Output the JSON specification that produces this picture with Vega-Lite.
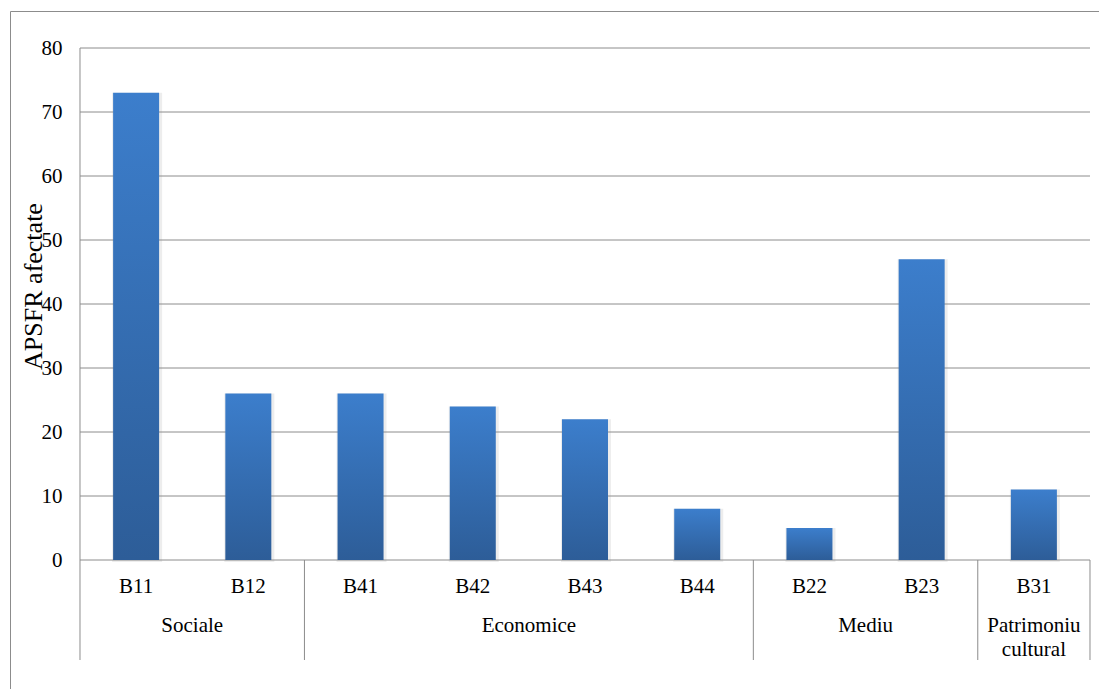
{
  "$schema": "https://vega.github.io/schema/vega-lite/v6.json",
  "width": 1089,
  "height": 678,
  "autosize": {"type": "none"},
  "padding": {"left": 10, "top": 11, "right": 0, "bottom": 0},
  "background": "white",
  "config": {"view": {"stroke": null}, "font": "'Liberation Serif', 'Times New Roman', serif"},
  "datasets": {
    "bars": [
      {"code": "B11", "group": "Sociale", "value": 73},
      {"code": "B12", "group": "Sociale", "value": 26},
      {"code": "B41", "group": "Economice", "value": 26},
      {"code": "B42", "group": "Economice", "value": 24},
      {"code": "B43", "group": "Economice", "value": 22},
      {"code": "B44", "group": "Economice", "value": 8},
      {"code": "B22", "group": "Mediu", "value": 5},
      {"code": "B23", "group": "Mediu", "value": 47},
      {"code": "B31", "group": "Patrimoniu cultural", "value": 11}
    ],
    "ticks": [
      {"v": 0}, {"v": 10}, {"v": 20}, {"v": 30}, {"v": 40},
      {"v": 50}, {"v": 60}, {"v": 70}, {"v": 80}
    ],
    "one": [{}]
  },
  "layer": [
    {
      "data": {"name": "bars"},
      "transform": [{"window": [{"op": "row_number", "as": "idx"}]}],
      "mark": {"type": "bar", "width": 50, "color": "#000000", "opacity": 0.07, "xOffset": 1, "y2Offset": 2},
      "encoding": {
        "x": {
          "field": "idx", "type": "quantitative",
          "scale": {"domain": [-0.12376, 9.58020], "nice": false, "zero": false, "padding": 0},
          "axis": {"orient": "top", "domain": true, "domainColor": "#8c8c8c", "domainWidth": 1, "ticks": false, "labels": false, "grid": false, "title": null}
        },
        "y": {
          "field": "value", "type": "quantitative",
          "scale": {"domain": [-20.15625, 85.78125], "nice": false, "zero": false, "padding": 0},
          "axis": {
            "orient": "left", "domain": true, "domainColor": "#8c8c8c", "domainWidth": 1,
            "ticks": false, "grid": false, "values": [0, 10, 20, 30, 40, 50, 60, 70, 80],
            "labelPadding": -52, "labelFontSize": 21, "labelFont": "'Liberation Serif', 'Times New Roman', serif", "labelColor": "#000000",
            "labelOverlap": false, "labelFlush": false,
            "title": "APSFR afectate", "titleFont": "'Liberation Serif', 'Times New Roman', serif", "titleFontSize": 26, "titleFontWeight": "normal",
            "titleColor": "#000000", "titleX": 31, "titleY": 275, "titleAngle": -90, "titleAlign": "center", "titleBaseline": "alphabetic"
          }
        },
        "y2": {"datum": 0}
      }
    },
    {
      "data": {"name": "ticks"},
      "mark": {"type": "rule", "color": "#8c8c8c", "strokeWidth": 1},
      "encoding": {
        "x": {"datum": 0.5, "type": "quantitative"},
        "x2": {"datum": 9.5},
        "y": {"field": "v", "type": "quantitative"}
      }
    },
    {
      "data": {"name": "one"},
      "mark": {"type": "rule", "color": "#8c8c8c", "strokeWidth": 1},
      "encoding": {
        "x": {"datum": 0.5, "type": "quantitative"},
        "y": {"datum": 80, "type": "quantitative"},
        "y2": {"datum": -15.625}
      }
    },
    {
      "data": {"name": "bars"},
      "transform": [
        {"window": [{"op": "row_number", "as": "idx"}]},
        {"joinaggregate": [{"op": "min", "field": "idx", "as": "gmin"}], "groupby": ["group"]},
        {"filter": "datum.idx == datum.gmin && datum.idx > 1"}
      ],
      "mark": {"type": "rule", "color": "#8c8c8c", "strokeWidth": 1, "xOffset": -56.11},
      "encoding": {
        "x": {"field": "idx", "type": "quantitative"},
        "y": {"datum": 0, "type": "quantitative"},
        "y2": {"datum": -15.625}
      }
    },
    {
      "data": {"name": "bars"},
      "transform": [
        {"window": [{"op": "row_number", "as": "idx"}]},
        {"joinaggregate": [{"op": "max", "field": "idx", "as": "amax"}]},
        {"filter": "datum.idx == datum.amax"}
      ],
      "mark": {"type": "rule", "color": "#8c8c8c", "strokeWidth": 1, "xOffset": 56.11},
      "encoding": {
        "x": {"field": "idx", "type": "quantitative"},
        "y": {"datum": 0, "type": "quantitative"},
        "y2": {"datum": -15.625}
      }
    },
    {
      "data": {"name": "bars"},
      "transform": [{"window": [{"op": "row_number", "as": "idx"}]}],
      "mark": {"type": "bar", "width": 46, "color": {"gradient": "linear", "x1": 0, "y1": 0, "x2": 0, "y2": 1, "stops": [{"offset": 0, "color": "#3c7ecc"}, {"offset": 1, "color": "#2d5d98"}]}},
      "encoding": {
        "x": {"field": "idx", "type": "quantitative"},
        "y": {"field": "value", "type": "quantitative"},
        "y2": {"datum": 0}
      }
    },
    {
      "data": {"name": "bars"},
      "transform": [{"window": [{"op": "row_number", "as": "idx"}]}],
      "mark": {"type": "text", "fontSize": 21, "font": "'Liberation Serif', 'Times New Roman', serif", "color": "#000000", "align": "center", "baseline": "alphabetic", "dy": 33},
      "encoding": {
        "x": {"field": "idx", "type": "quantitative"},
        "y": {"datum": 0, "type": "quantitative"},
        "text": {"field": "code"}
      }
    },
    {
      "data": {"name": "bars"},
      "transform": [
        {"window": [{"op": "row_number", "as": "idx"}]},
        {"aggregate": [{"op": "mean", "field": "idx", "as": "mid"}], "groupby": ["group"]}
      ],
      "mark": {"type": "text", "fontSize": 21, "font": "'Liberation Serif', 'Times New Roman', serif", "color": "#000000", "align": "center", "baseline": "alphabetic", "dy": 72, "lineBreak": " ", "lineHeight": 24},
      "encoding": {
        "x": {"field": "mid", "type": "quantitative"},
        "y": {"datum": 0, "type": "quantitative"},
        "text": {"field": "group"}
      }
    }
  ]
}
